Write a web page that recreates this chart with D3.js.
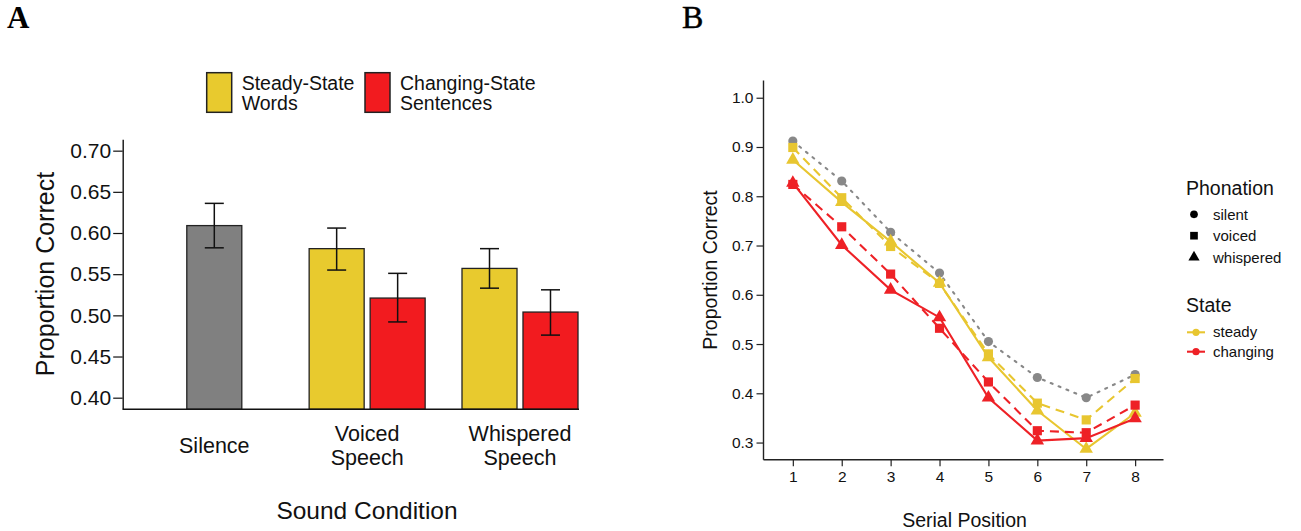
<!DOCTYPE html>
<html><head><meta charset="utf-8">
<script src="https://cdnjs.cloudflare.com/ajax/libs/d3/7.8.5/d3.min.js"></script>
<style>body{margin:0;background:#fff;} svg{display:block;font-family:"Liberation Sans",Arial,sans-serif;}</style>
</head><body>
<script>
// ---------- Panel A data ----------
const conditions = ["Silence", "Voiced Speech", "Whispered Speech"];
const conditionLines = [["Silence"], ["Voiced", "Speech"], ["Whispered", "Speech"]];
const states = ["steady", "changing"];
const stateLabels = [["Steady-State", "Words"], ["Changing-State", "Sentences"]];
const barCondition = ["Silence", "Voiced Speech", "Voiced Speech", "Whispered Speech", "Whispered Speech"];
const barState = ["silence", "steady", "changing", "steady", "changing"];
const barMean = [0.609, 0.581, 0.521, 0.557, 0.504];
const barLow = [0.582, 0.555, 0.492, 0.533, 0.476];
const barHigh = [0.636, 0.606, 0.551, 0.581, 0.531];
const ticksA = [0.40, 0.45, 0.50, 0.55, 0.60, 0.65, 0.70];

// ---------- Panel B data ----------
const serialPositions = [1, 2, 3, 4, 5, 6, 7, 8];
const silent = [0.912, 0.831, 0.727, 0.644, 0.505, 0.432, 0.391, 0.438];
const voicedSteady = [0.899, 0.797, 0.698, 0.623, 0.480, 0.380, 0.346, 0.430];
const voicedChanging = [0.824, 0.738, 0.642, 0.532, 0.423, 0.324, 0.320, 0.376];
const whisperedSteady = [0.874, 0.788, 0.708, 0.624, 0.473, 0.365, 0.287, 0.360];
const whisperedChanging = [0.827, 0.701, 0.610, 0.554, 0.391, 0.304, 0.309, 0.349];
const ticksBy = [0.3, 0.4, 0.5, 0.6, 0.7, 0.8, 0.9, 1.0];
const phonations = ["silent", "voiced", "whispered"];
const stateNames = ["steady", "changing"];

const colA = {silence: "#808080", steady: "#E8CA2E", changing: "#F21B1F"};
const colB = {silent: "#888888", steady: "#E8C630", changing: "#EE2126"};

const svg = d3.select("body").append("svg").attr("width", 1301).attr("height", 531);

// ===== Panel labels =====
svg.append("text").attr("x", 7).attr("y", 27.5).attr("font-family", "'Liberation Serif',serif")
  .attr("font-weight", "bold").attr("font-size", 31).text("A");
svg.append("text").attr("x", 682).attr("y", 27.5).attr("font-family", "'Liberation Serif',serif")
  .attr("font-weight", "normal").attr("font-size", 32).attr("stroke", "#000").attr("stroke-width", 0.5).text("B");

// ===== Panel A =====
const yA = d3.scaleLinear().domain([0.3859, 0.7138]).range([409.3, 139.3]);
const xA = d3.scalePoint().domain(conditions).range([214.3, 520]);
const xSub = d3.scaleBand().domain(states).range([-58, 58]).paddingInner(0.098);
const bw = xSub.bandwidth();
const gA = svg.append("g");

const bars = barMean.map((m, i) => {
  const c = xA(barCondition[i]);
  const x0 = barState[i] === "silence" ? c - bw / 2 : c + xSub(barState[i]);
  return {x0, m, lo: barLow[i], hi: barHigh[i], s: barState[i]};
});
gA.selectAll("rect.bar").data(bars).join("rect").attr("class", "bar")
  .attr("x", d => d.x0).attr("width", bw)
  .attr("y", d => yA(d.m)).attr("height", d => yA.range()[0] - yA(d.m))
  .attr("fill", d => colA[d.s]).attr("stroke", "#222").attr("stroke-width", 1.3);
// error bars
const eb = gA.selectAll("g.eb").data(bars).join("g").attr("class", "eb")
  .attr("stroke", "#111").attr("stroke-width", 1.5);
eb.append("line").attr("x1", d => d.x0 + bw / 2).attr("x2", d => d.x0 + bw / 2)
  .attr("y1", d => yA(d.lo)).attr("y2", d => yA(d.hi));
eb.append("line").attr("x1", d => d.x0 + bw / 2 - 9.5).attr("x2", d => d.x0 + bw / 2 + 9.5)
  .attr("y1", d => yA(d.lo)).attr("y2", d => yA(d.lo));
eb.append("line").attr("x1", d => d.x0 + bw / 2 - 9.5).attr("x2", d => d.x0 + bw / 2 + 9.5)
  .attr("y1", d => yA(d.hi)).attr("y2", d => yA(d.hi));

// y axis A
const axA = gA.append("g").attr("transform", "translate(122.7,0)")
  .call(d3.axisLeft(yA).tickValues(ticksA).tickFormat(d3.format(".2f")).tickSize(9.5).tickPadding(2).tickSizeOuter(0));
axA.select(".domain").attr("stroke", "#111").attr("stroke-width", 1.4);
axA.selectAll(".tick line").attr("stroke", "#111").attr("stroke-width", 1.2);
axA.selectAll(".tick text").attr("font-size", 21).attr("fill", "#111").attr("font-family", "'Liberation Sans',Arial,sans-serif");
// x axis line A
gA.append("line").attr("x1", 122.7).attr("x2", 579).attr("y1", 409.3).attr("y2", 409.3)
  .attr("stroke", "#111").attr("stroke-width", 1.4);
// category labels
conditions.forEach((c, i) => {
  const lines = conditionLines[i];
  const t = gA.append("text").attr("text-anchor", "middle").attr("font-size", 21.5).attr("fill", "#111");
  const base = lines.length === 1 ? 453.2 : 440.9;
  lines.forEach((l, j) => t.append("tspan").attr("x", xA(c)).attr("y", base + j * 24.5).text(l));
});
gA.append("text").attr("x", 367).attr("y", 519).attr("text-anchor", "middle").attr("font-size", 24.5)
  .attr("fill", "#111").text("Sound Condition");
gA.append("text").attr("transform", "translate(53.5,274) rotate(-90)").attr("text-anchor", "middle")
  .attr("font-size", 25).attr("fill", "#111").text("Proportion Correct");
// legend A
const legX = [206.7, 365];
states.forEach((s, i) => {
  gA.append("rect").attr("x", legX[i]).attr("y", 72.7).attr("width", 25).attr("height", 39.6)
    .attr("fill", colA[s]).attr("stroke", "#222").attr("stroke-width", 1.5);
  const t = gA.append("text").attr("font-size", 19.5).attr("fill", "#111");
  stateLabels[i].forEach((l, j) => t.append("tspan").attr("x", legX[i] + 35).attr("y", 89.8 + j * 20).text(l));
});

// ===== Panel B =====
const xB = d3.scaleLinear().domain([0.39, 8.57]).range([763, 1163]);
const yB = d3.scaleLinear().domain([0.266, 1.036]).range([459.3, 80]);
const gB = svg.append("g");

const axBy = gB.append("g").attr("transform", "translate(763,0)")
  .call(d3.axisLeft(yB).tickValues(ticksBy).tickFormat(d3.format(".1f")).tickSize(6.5).tickPadding(3).tickSizeOuter(0));
const axBx = gB.append("g").attr("transform", "translate(0,459.3)")
  .call(d3.axisBottom(xB).tickValues(serialPositions).tickFormat(d3.format("d")).tickSize(7).tickPadding(5).tickSizeOuter(0));
[axBy, axBx].forEach(a => {
  a.select(".domain").attr("stroke", "#222").attr("stroke-width", 1.4);
  a.selectAll(".tick line").attr("stroke", "#222").attr("stroke-width", 1.2);
  a.selectAll(".tick text").attr("font-size", 15.5).attr("fill", "#111").attr("font-family", "'Liberation Sans',Arial,sans-serif");
});
gB.append("text").attr("x", 964.5).attr("y", 526.5).attr("text-anchor", "middle").attr("font-size", 19.5)
  .attr("fill", "#111").text("Serial Position");
gB.append("text").attr("transform", "translate(717,270) rotate(-90)").attr("text-anchor", "middle")
  .attr("font-size", 19.5).attr("fill", "#111").text("Proportion Correct");

const series = [
  {vals: silent, ph: "silent", col: colB.silent, dash: "2,6.5", cap: "round"},
  {vals: voicedSteady, ph: "voiced", col: colB.steady, dash: "9,6", cap: "butt"},
  {vals: whisperedSteady, ph: "whispered", col: colB.steady, dash: null, cap: "butt"},
  {vals: voicedChanging, ph: "voiced", col: colB.changing, dash: "9,6", cap: "butt"},
  {vals: whisperedChanging, ph: "whispered", col: colB.changing, dash: null, cap: "butt"}
];
const line = d3.line().x((d, i) => xB(serialPositions[i])).y(d => yB(d));
series.forEach(s => {
  gB.append("path").attr("d", line(s.vals)).attr("fill", "none").attr("stroke", s.col)
    .attr("stroke-width", 2.1).attr("stroke-dasharray", s.dash).attr("stroke-linecap", s.cap);
});
const symType = {silent: d3.symbolCircle, voiced: d3.symbolSquare, whispered: d3.symbolTriangle};
const symSize = {silent: 66, voiced: 84, whispered: 78};
series.forEach(s => {
  gB.selectAll(null).data(s.vals).join("path")
    .attr("transform", (d, i) => `translate(${xB(serialPositions[i])},${yB(d)})`)
    .attr("d", d3.symbol().type(symType[s.ph]).size(symSize[s.ph]))
    .attr("fill", s.col);
});

// legend B
const lg = svg.append("g").attr("fill", "#111");
lg.append("text").attr("x", 1186).attr("y", 195).attr("font-size", 19.5).text("Phonation");
const phY = [214.3, 235.7, 257.3];
phonations.forEach((p, i) => {
  lg.append("path").attr("transform", `translate(1194,${phY[i]})`)
    .attr("d", d3.symbol().type(symType[p]).size(symSize[p] * 0.7)).attr("fill", "#000");
  lg.append("text").attr("x", 1213).attr("y", phY[i] + 5.5).attr("font-size", 15).text(p);
});
lg.append("text").attr("x", 1186).attr("y", 311.7).attr("font-size", 19.5).text("State");
const stY = [332.3, 351.7];
stateNames.forEach((s, i) => {
  lg.append("line").attr("x1", 1187).attr("x2", 1205).attr("y1", stY[i]).attr("y2", stY[i])
    .attr("stroke", colB[s]).attr("stroke-width", 2.1);
  lg.append("circle").attr("cx", 1196).attr("cy", stY[i]).attr("r", 3.6).attr("fill", colB[s]);
  lg.append("text").attr("x", 1213).attr("y", stY[i] + 5).attr("font-size", 15).text(s);
});
</script>
</body></html>
